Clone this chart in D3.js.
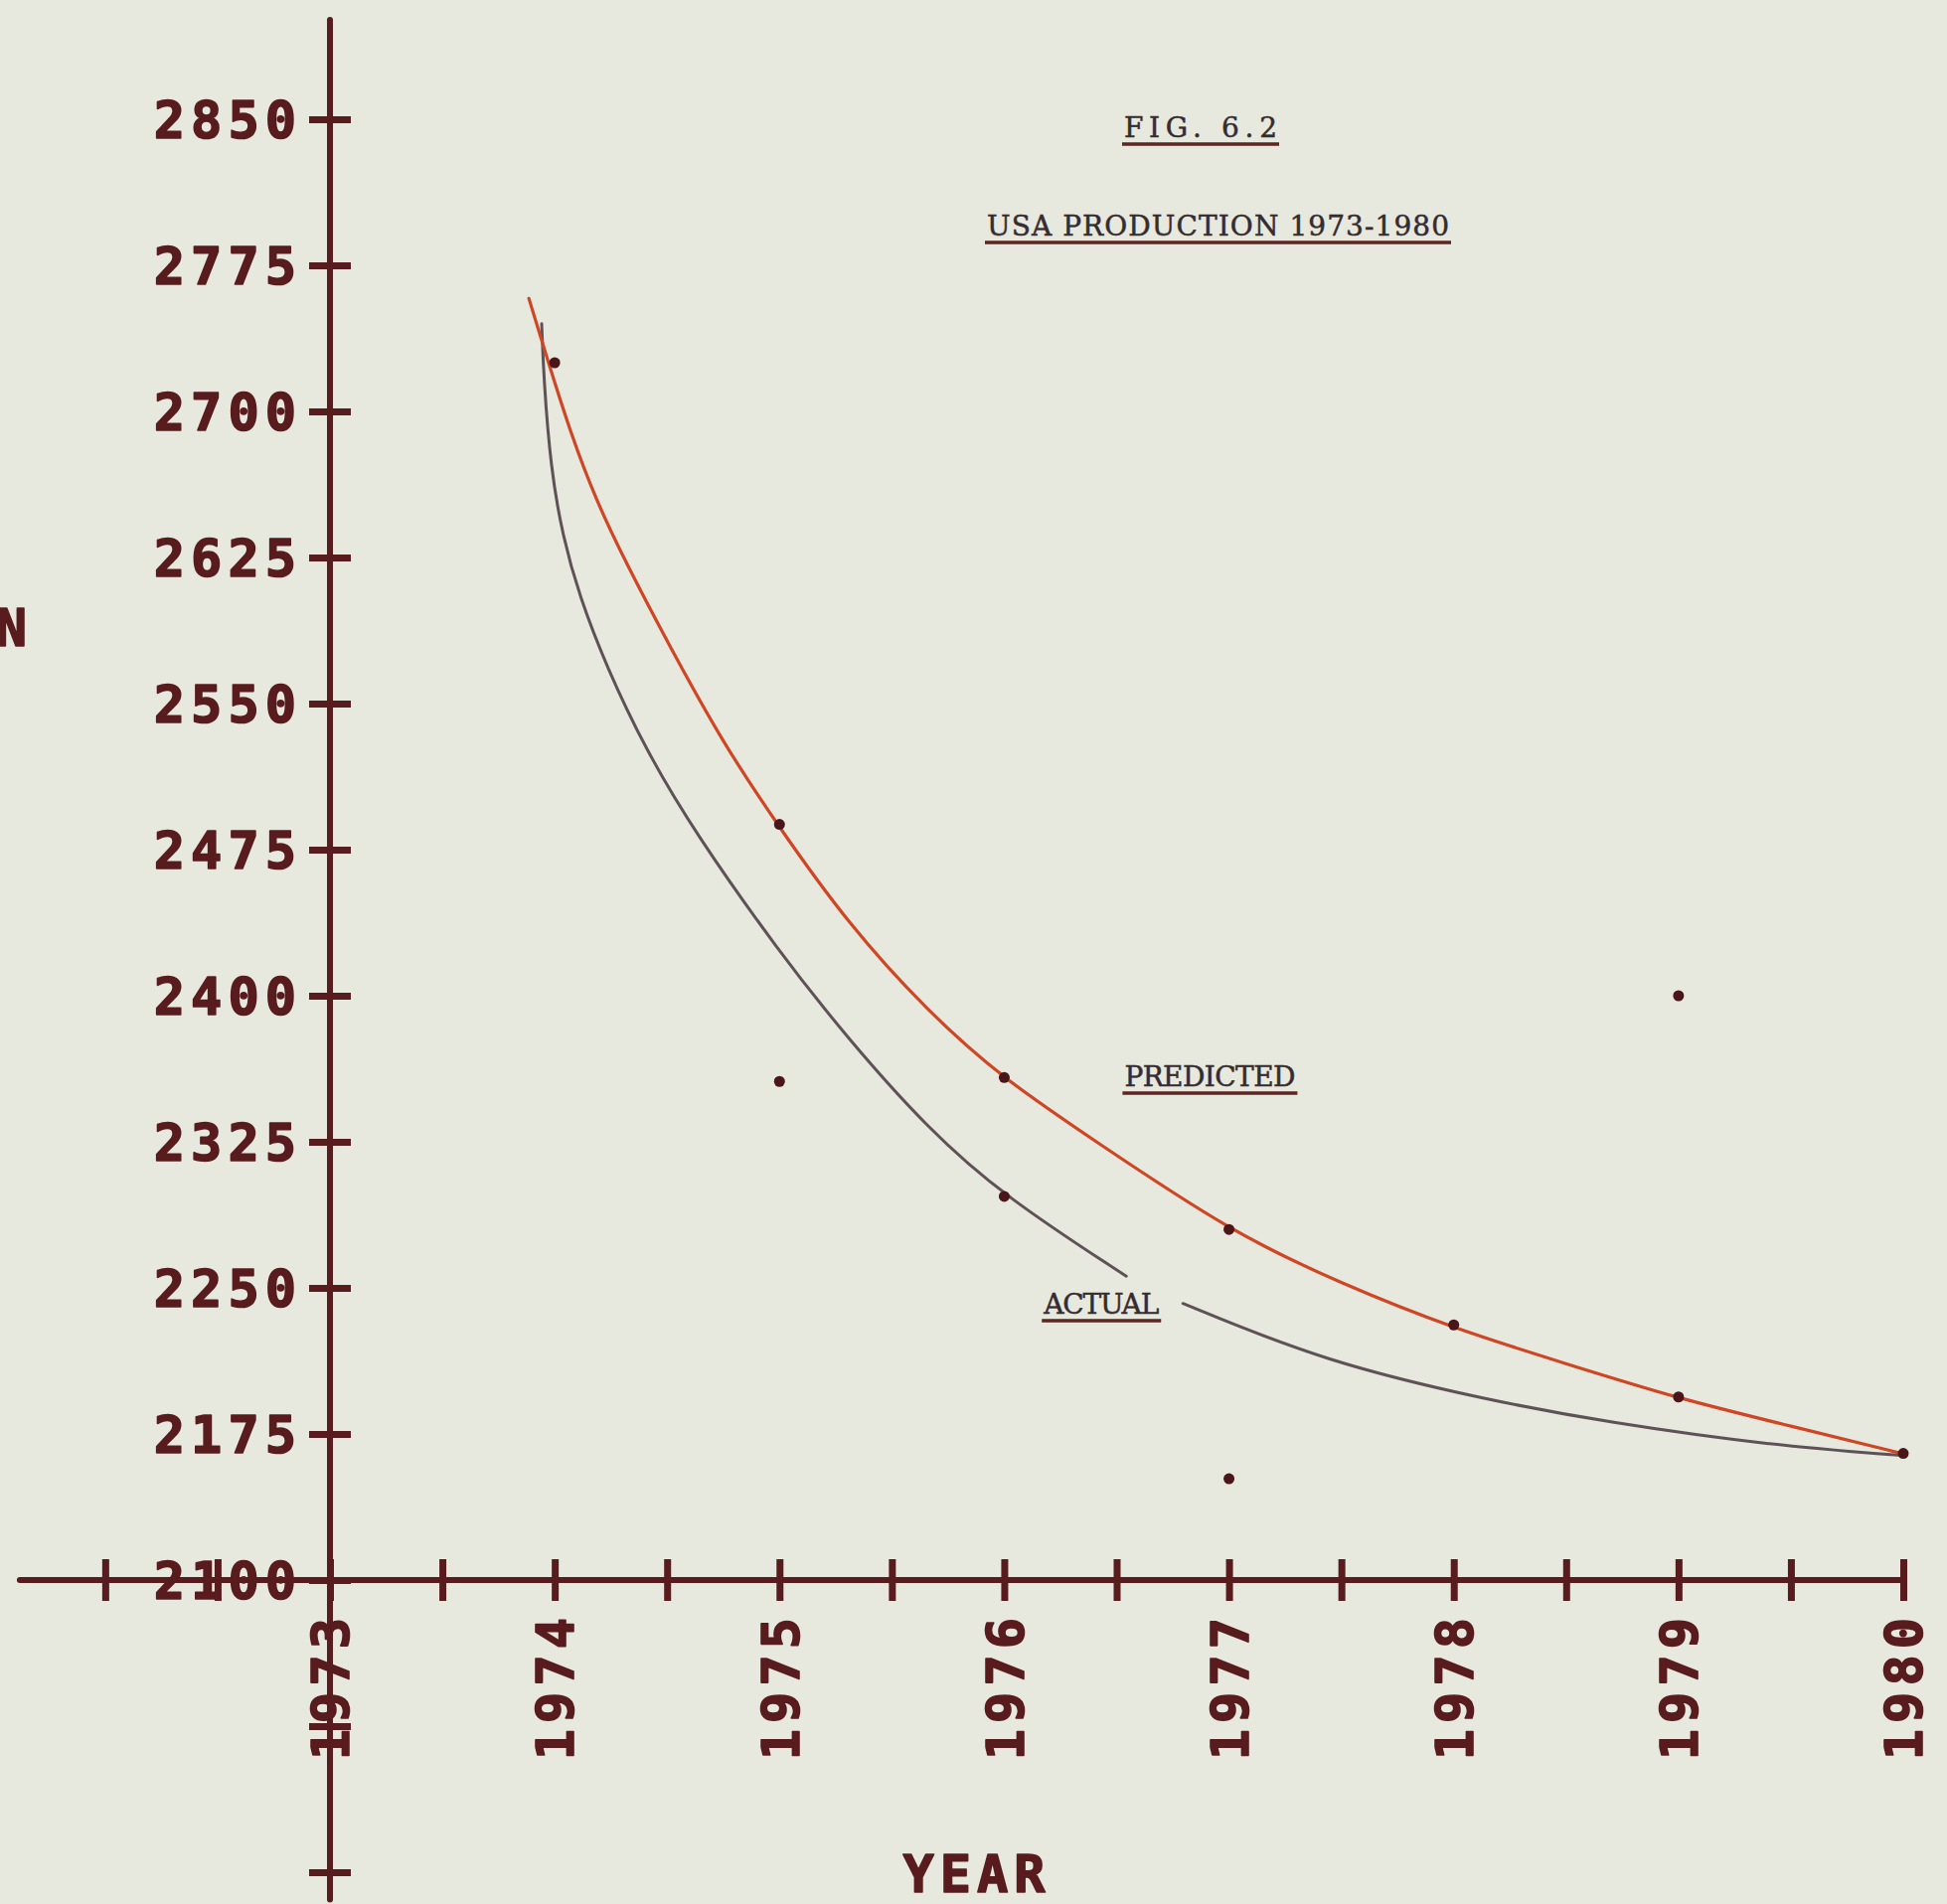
<!DOCTYPE html>
<html lang="en">
<head>
<meta charset="UTF-8">
<title>USA Production 1973-1980</title>
<script src="https://d3js.org/d3.v7.min.js"></script>
<style>
  body { margin: 0; background: #e7e8de; }
  svg { display: block; }
</style>
</head>
<body>
<svg id="chart" width="1959" height="1916"></svg>
<script>
// axis ticks
const yTickValues = [1950, 2025, 2100, 2175, 2250, 2325, 2400, 2475, 2550, 2625, 2700, 2775, 2850];
const yLabelled = [2100, 2175, 2250, 2325, 2400, 2475, 2550, 2625, 2700, 2775, 2850];
const xTickValues = [1972, 1972.5, 1973, 1973.5, 1974, 1974.5, 1975, 1975.5, 1976, 1976.5,
                     1977, 1977.5, 1978, 1978.5, 1979, 1979.5, 1980];
const yearLabels = [1973, 1974, 1975, 1976, 1977, 1978, 1979, 1980];

// curves: [year, production]
const predictedCurve = [
  [1973.885, 2758], [1973.964, 2728], [1974.070, 2689], [1974.185, 2654], [1974.318, 2622],
  [1974.504, 2581], [1974.747, 2530], [1974.995, 2487], [1975.304, 2437], [1975.658, 2392],
  [1975.999, 2357], [1976.397, 2326], [1977.003, 2279], [1977.502, 2252], [1978.002, 2229],
  [1978.502, 2211], [1979.002, 2193], [1979.502, 2179], [1979.993, 2165]
];
// actual curve is broken where the ACTUAL label sits
const actualCurve1 = [
  [1973.942, 2745], [1973.951, 2717], [1973.982, 2671], [1974.035, 2636], [1974.110, 2605],
  [1974.230, 2569], [1974.406, 2526], [1974.628, 2483], [1974.995, 2423], [1975.304, 2378],
  [1975.658, 2332], [1975.999, 2297], [1976.543, 2256]
];
const actualCurve2 = [
  [1976.795, 2242], [1977.427, 2212], [1978.166, 2192], [1978.683, 2181], [1979.418, 2169],
  [1979.993, 2164]
];

// plotted points
const predictedPoints = [[1974, 2725], [1975, 2488], [1976, 2358], [1977, 2280], [1978, 2231], [1979, 2194], [1980, 2165]];
const actualPoints = [[1975, 2356], [1976, 2297], [1977, 2152], [1979, 2400]];

const svg = d3.select("#chart");
const x = d3.scaleLinear().domain([1973, 1980]).range([332, 1915]);
const y = d3.scaleLinear().domain([2100, 2850]).range([1590, 120]);

const ink = "#581b1e";
const plotFont = "'DejaVu Sans Mono', monospace";
const typeFont = "'DejaVu Serif', serif";
const typeInk = "#352c30";
const ls = 6;

svg.append("rect").attr("width", 1959).attr("height", 1916).attr("fill", "#e7e8de");

// axis lines, extended past the tick range like the plotter drew them
svg.append("line")
  .attr("x1", x(1973)).attr("x2", x(1973)).attr("y1", y(2901)).attr("y2", y(1936))
  .attr("stroke", ink).attr("stroke-width", 6).attr("stroke-linecap", "round");
svg.append("line")
  .attr("x1", x(1971.62)).attr("x2", x(1980)).attr("y1", y(2100)).attr("y2", y(2100))
  .attr("stroke", ink).attr("stroke-width", 6).attr("stroke-linecap", "round");

function plotText(sel) {
  sel.attr("font-family", plotFont).attr("font-weight", "bold").attr("font-size", 52)
    .attr("fill", ink).attr("stroke", ink).attr("stroke-width", 1.6)
    .attr("stroke-linejoin", "round");
}

// y axis
const gy = svg.append("g").attr("transform", `translate(${x(1973)},0)`)
  .call(d3.axisLeft(y).tickValues(yTickValues).tickSize(21)
    .tickFormat(d => yLabelled.includes(d) ? d : ""));
gy.select(".domain").remove();
gy.selectAll(".tick line").attr("x1", -21).attr("x2", 21)
  .attr("stroke", ink).attr("stroke-width", 7);
gy.selectAll(".tick text")
  .attr("x", -34 + ls).attr("dy", "0.36em").attr("letter-spacing", ls)
  .call(plotText);

// x axis
const gx = svg.append("g").attr("transform", `translate(0,${y(2100)})`)
  .call(d3.axisBottom(x).tickValues(xTickValues).tickSize(21)
    .tickFormat(d => yearLabels.includes(d) ? d : ""));
gx.select(".domain").remove();
gx.selectAll(".tick line").attr("y1", -21).attr("y2", 21)
  .attr("stroke", ink).attr("stroke-width", 7);
gx.selectAll(".tick text")
  .attr("transform", "rotate(-90)").attr("text-anchor", "end")
  .attr("x", -38 + ls).attr("y", 0).attr("dy", "0.36em").attr("letter-spacing", ls)
  .call(plotText);

// axis titles
svg.append("text").attr("x", 983).attr("y", 1904).attr("text-anchor", "middle")
  .attr("letter-spacing", ls).call(plotText).text("YEAR");
svg.append("text").attr("x", 27).attr("y", 650).attr("text-anchor", "end")
  .call(plotText).text("N");

// curves
const line = d3.line().x(d => x(d[0])).y(d => y(d[1])).curve(d3.curveBasis);
[actualCurve1, actualCurve2].forEach(c => {
  svg.append("path").datum(c).attr("d", line).attr("fill", "none")
    .attr("stroke", "#5e5257").attr("stroke-width", 3).attr("stroke-linecap", "round");
});
svg.append("path").datum(predictedCurve).attr("d", line).attr("fill", "none")
  .attr("stroke", "#cf4624").attr("stroke-width", 3.2).attr("stroke-linecap", "round");

// points
svg.selectAll("circle.pt").data(predictedPoints.concat(actualPoints)).enter().append("circle")
  .attr("class", "pt")
  .attr("cx", d => x(d[0])).attr("cy", d => y(d[1])).attr("r", 5.5).attr("fill", "#4a1619");

// typed annotations with underlines
function typed(txt, x0, width, baseline) {
  svg.append("text").attr("x", x0).attr("y", baseline)
    .attr("textLength", width).attr("lengthAdjust", "spacing")
    .attr("font-family", typeFont).attr("font-size", 28).attr("fill", typeInk)
    .attr("stroke", typeInk).attr("stroke-width", 0.5).text(txt);
  svg.append("line").attr("x1", x0 - 2).attr("x2", x0 + width + 2)
    .attr("y1", baseline + 7).attr("y2", baseline + 7)
    .attr("stroke", "#5e2522").attr("stroke-width", 3.5);
}
typed("FIG. 6.2", 1131, 154, 138);
typed("USA PRODUCTION 1973-1980", 993, 465, 237);
typed("PREDICTED", x(1976.535), 172, y(2353.6));
typed("ACTUAL", x(1976.176), 116, y(2236.7));
</script>
</body>
</html>
